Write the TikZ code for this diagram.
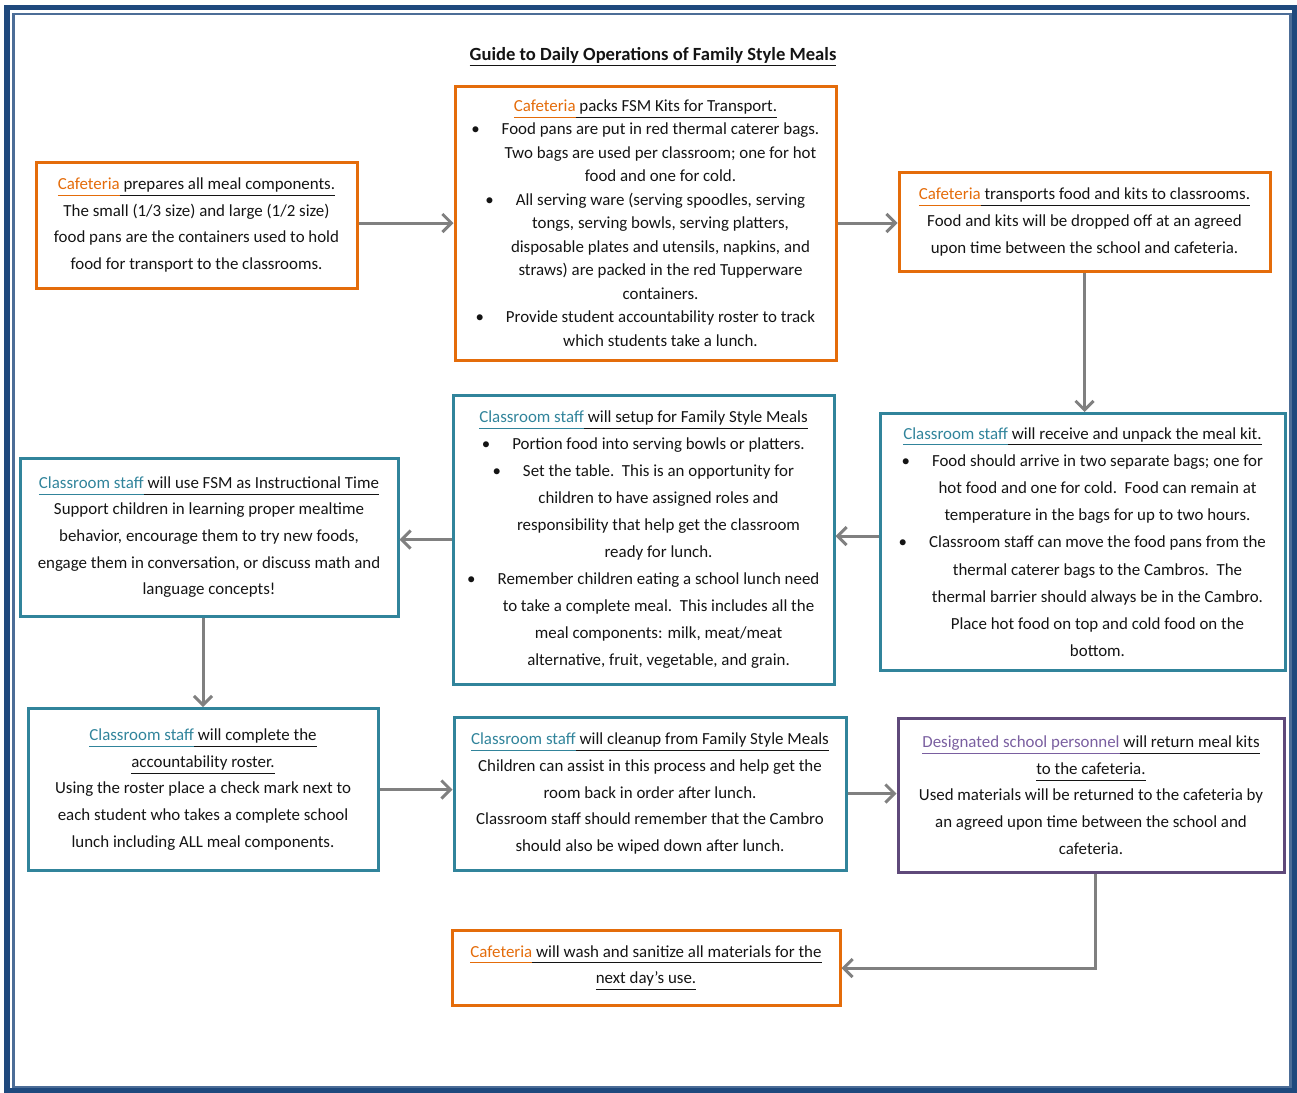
\documentclass[tikz,border=0pt]{standalone}
\usepackage{fontspec}
\setmainfont{Carlito}
\usepackage{xcolor}
\usepackage{tikz}
\usetikzlibrary{arrows.meta, positioning, calc}
\definecolor{cafe}{HTML}{E46C0A}
\definecolor{aqua}{HTML}{31849B}
\definecolor{plum}{HTML}{5F497A}
\definecolor{plumtext}{HTML}{7A5FA0}
\definecolor{ink}{HTML}{141414}
\definecolor{frame}{HTML}{1F497D}
\definecolor{arrgray}{HTML}{808080}
\newcommand{\ulc}[2]{\textcolor{#1}{\underline{#2\vphantom{gy}}}}
\newcommand{\ind}{\hspace*{15pt}}
\newcommand{\bul}{\ind\llap{\textbullet\hspace{11pt}}}

\begin{document}
\begin{tikzpicture}[x=0.5pt, y=-0.5pt,
    every node/.style={font=\fontsize{8.45}{13.3}\selectfont, text=ink},
    box/.style={draw, line width=1.5pt, align=center, inner sep=0pt},
    cafbox/.style={box, draw=cafe},
    aquabox/.style={box, draw=aqua},
    plumbox/.style={box, draw=plum},
    arr/.style={draw=arrgray, line width=1.5pt, -{Straight Barb[length=4.5pt, width=9pt]}}]
    \useasboundingbox (0,0) rectangle (1297,1093);
    \draw[frame, line width=2.8pt] (7,7.5) rectangle (1294.5,1090.5);
    \draw[frame!80, line width=1.2pt] (13.5,14) rectangle (1290.5,1087);
    \node[font=\fontsize{9.3}{11}\selectfont\bfseries] (title) at (653,57)
        {\underline{Guide to Daily Operations of Family Style Meals}};
    \node[cafbox, minimum width=160.5pt, minimum height=63pt] (prep) at (196.5,225)
        {\ulc{cafe}{Cafeteria}\ulc{ink}{ prepares all meal components.}\\
         The small (1/3 size) and large (1/2 size)\\
         food pans are the containers used to hold\\
         food for transport to the classrooms.};
    \node[cafbox, minimum width=190.5pt, minimum height=137pt,
        font=\fontsize{8.45}{11.75}\selectfont] (pack) at (645.5,223)
        {\ulc{cafe}{Cafeteria}\ulc{ink}{ packs FSM Kits for Transport.}\\
         \bul Food pans are put in red thermal caterer bags.\\
         \ind Two bags are used per classroom; one for hot\\
         \ind food and one for cold.\\
         \bul All serving ware (serving spoodles, serving\\
         \ind tongs, serving bowls, serving platters,\\
         \ind disposable plates and utensils, napkins, and\\
         \ind straws) are packed in the red Tupperware\\
         \ind containers.\\
         \bul Provide student accountability roster to track\\
         \ind which students take a lunch.};
    \node[cafbox, minimum width=185.5pt, minimum height=49.5pt] (carry) at (1084.5,222)
        {\ulc{cafe}{Cafeteria}\ulc{ink}{ transports food and kits to classrooms.}\\
         Food and kits will be dropped off at an agreed\\
         upon time between the school and cafeteria.};
    \node[aquabox, minimum width=202.5pt, minimum height=128.5pt,
        font=\fontsize{8.45}{13.6}\selectfont] (unpack) at (1082.5,542)
        {\ulc{aqua}{Classroom staff}\ulc{ink}{ will receive and unpack the meal kit.}\\
         \bul Food should arrive in two separate bags; one for\\
         \ind hot food and one for cold.\ \ Food can remain at\\
         \ind temperature in the bags for up to two hours.\\
         \bul Classroom staff can move the food pans from the\\
         \ind thermal caterer bags to the Cambros.\ \ The\\
         \ind thermal barrier should always be in the Cambro.\\
         \ind Place hot food on top and cold food on the\\
         \ind bottom.};
    \node[aquabox, minimum width=190.5pt, minimum height=144.5pt,
        font=\fontsize{8.45}{13.5}\selectfont] (setup) at (643.5,539.5)
        {\ulc{aqua}{Classroom staff}\ulc{ink}{ will setup for Family Style Meals}\\
         \bul Portion food into serving bowls or platters.\\
         \bul Set the table.\ \ This is an opportunity for\\
         \ind children to have assigned roles and\\
         \ind responsibility that help get the classroom\\
         \ind ready for lunch.\\
         \bul Remember children eating a school lunch need\\
         \ind to take a complete meal.\ \ This includes all the\\
         \ind meal components: milk, meat/meat\\
         \ind alternative, fruit, vegetable, and grain.};
    \node[aquabox, minimum width=189pt, minimum height=79pt] (teach) at (209,537)
        {\ulc{aqua}{Classroom staff}\ulc{ink}{ will use FSM as Instructional Time}\\
         Support children in learning proper mealtime\\
         behavior, encourage them to try new foods,\\
         engage them in conversation, or discuss math and\\
         language concepts!};
    \node[aquabox, minimum width=175pt, minimum height=81pt] (roster) at (203,789.5)
        {\ulc{aqua}{Classroom staff}\ulc{ink}{ will complete the}\\
         \ulc{ink}{accountability roster.}\\
         Using the roster place a check mark next to\\
         each student who takes a complete school\\
         lunch including ALL meal components.};
    \node[aquabox, minimum width=196pt, minimum height=76.5pt] (clean) at (650,793.5)
        {\ulc{aqua}{Classroom staff}\ulc{ink}{ will cleanup from Family Style Meals}\\
         Children can assist in this process and help get the\\
         room back in order after lunch.\\
         Classroom staff should remember that the Cambro\\
         should also be wiped down after lunch.};
    \node[plumbox, minimum width=193pt, minimum height=77pt] (return) at (1091,795)
        {\ulc{plumtext}{Designated school personnel}\ulc{ink}{ will return meal kits}\\
         \ulc{ink}{to the cafeteria.}\\
         Used materials will be returned to the cafeteria by\\
         an agreed upon time between the school and\\
         cafeteria.};
    \node[cafbox, minimum width=194pt, minimum height=37.5pt] (wash) at (646,968)
        {\ulc{cafe}{Cafeteria}\ulc{ink}{ will wash and sanitize all materials for the}\\
         \ulc{ink}{next day’s use.}};
    \draw[arr] ([yshift=1pt]prep.east) -- ([yshift=1pt]prep.east -| pack.west);
    \draw[arr] (pack.east) -- (pack.east -| carry.west);
    \draw[arr] (carry.south) -- (carry.south |- unpack.north);
    \draw[arr] ([yshift=3pt]unpack.west) -- ([yshift=3pt]unpack.west -| setup.east);
    \draw[arr] (setup.west) -- (setup.west -| teach.east);
    \draw[arr] (roster.north |- teach.south) -- (roster.north);
    \draw[arr] (roster.east) -- (roster.east -| clean.west);
    \draw[arr] (clean.east) -- (clean.east -| return.west);
    \draw[arr] ([xshift=2pt]return.south) |- (wash.east);
\end{tikzpicture}
\end{document}
